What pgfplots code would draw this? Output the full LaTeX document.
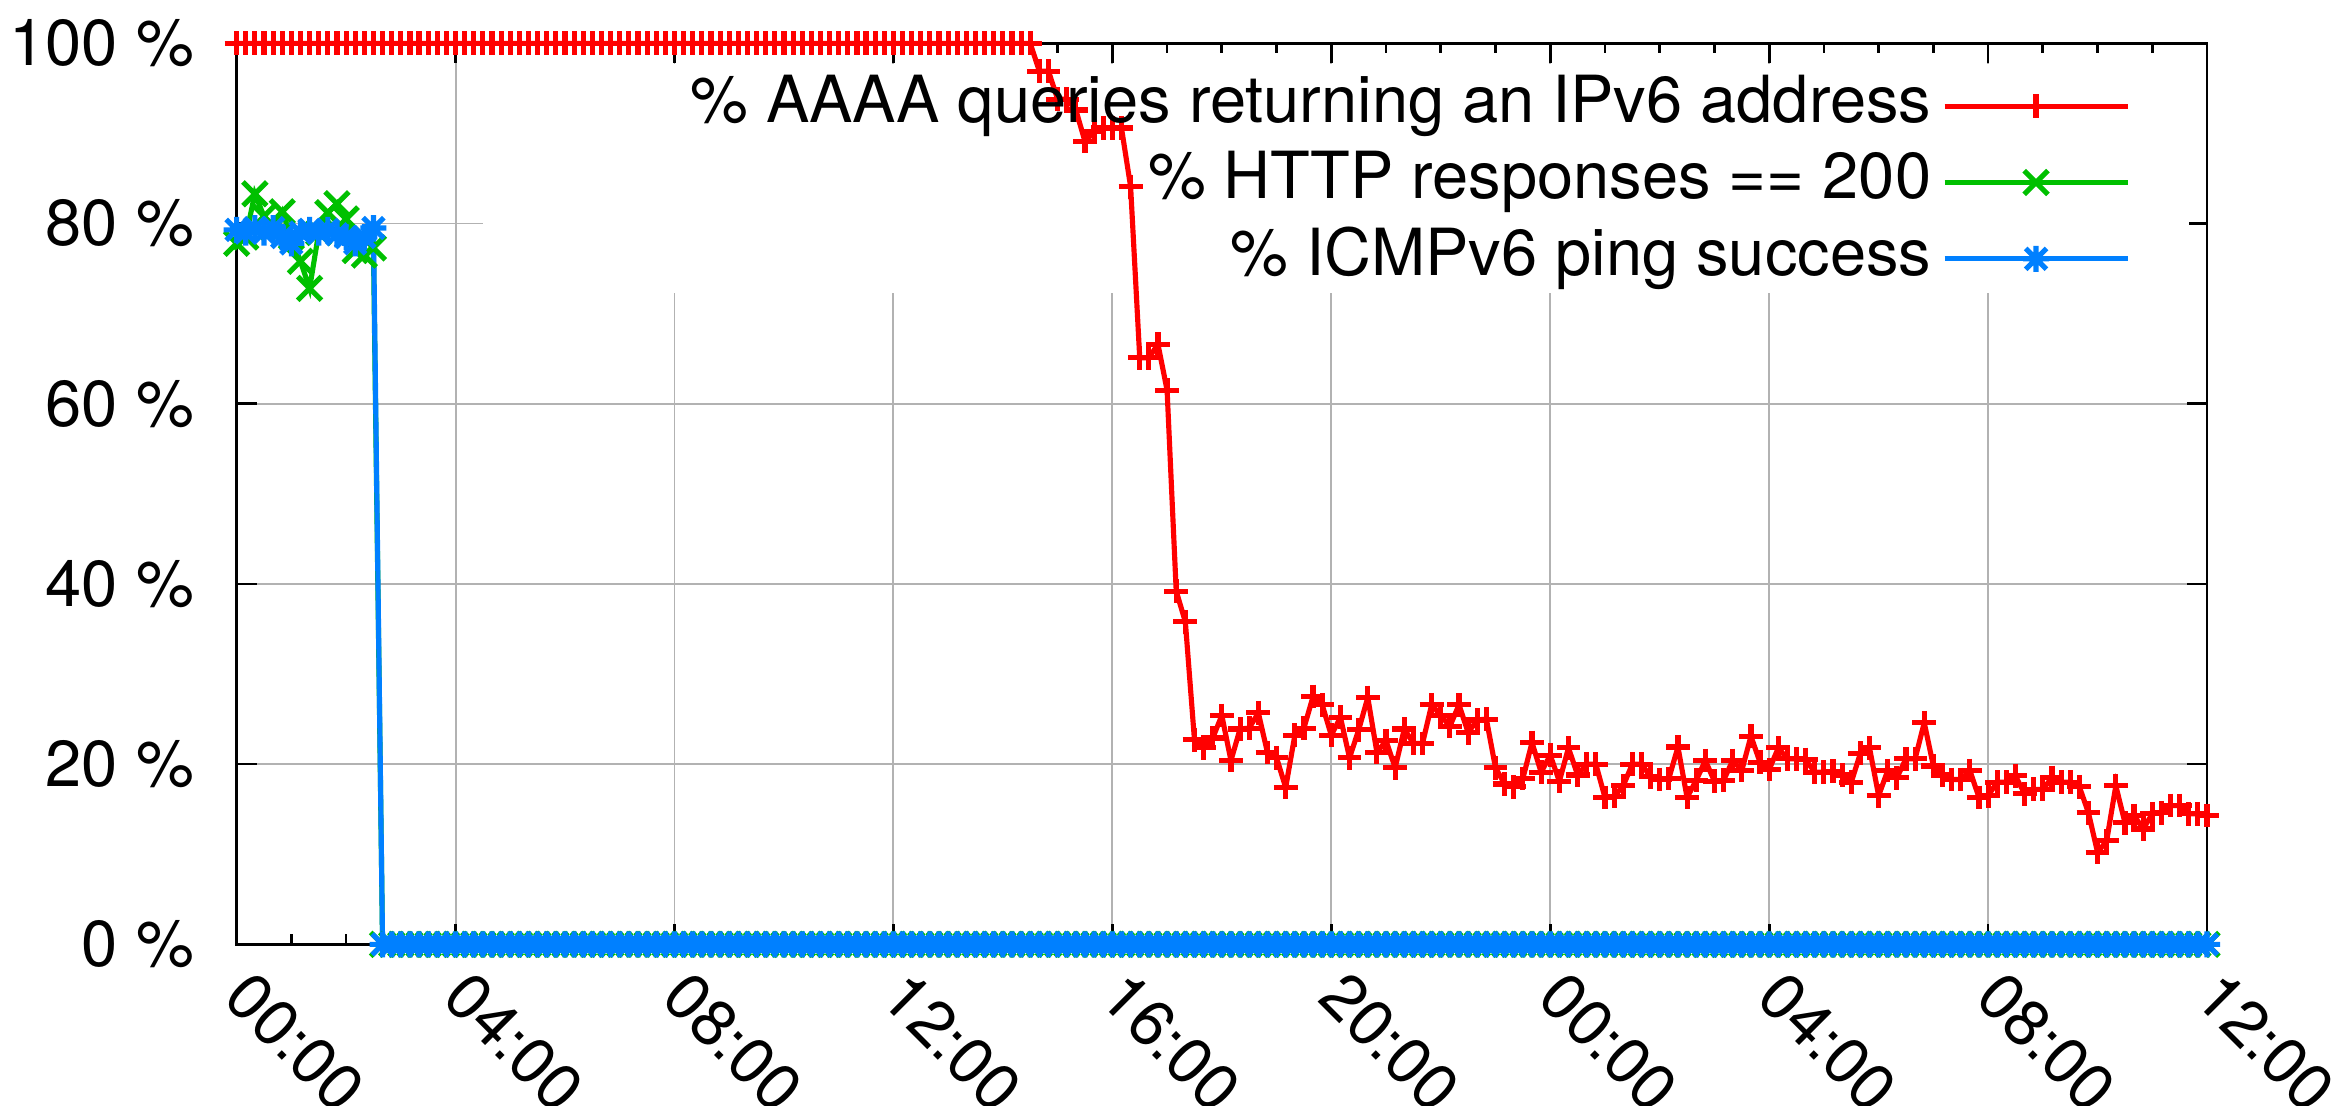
\documentclass[border=0pt]{standalone}
\usepackage{fontspec}
\setmainfont{TeX Gyre Heros}
\usepackage{pgfplots}
\usepackage{pgfplotstable}
\pgfplotsset{compat=1.18}
\usetikzlibrary{plotmarks}
\definecolor{gred}{RGB}{255,0,0}
\definecolor{ggreen}{RGB}{0,192,0}
\definecolor{gblue}{RGB}{0,128,255}

\pgfdeclareplotmark{gstar}{%
  \pgfpathmoveto{\pgfqpoint{-\pgfplotmarksize}{0pt}}\pgfpathlineto{\pgfqpoint{\pgfplotmarksize}{0pt}}%
  \pgfpathmoveto{\pgfqpoint{0pt}{-\pgfplotmarksize}}\pgfpathlineto{\pgfqpoint{0pt}{\pgfplotmarksize}}%
  \pgfpathmoveto{\pgfqpoint{-.8\pgfplotmarksize}{-.8\pgfplotmarksize}}\pgfpathlineto{\pgfqpoint{.8\pgfplotmarksize}{.8\pgfplotmarksize}}%
  \pgfpathmoveto{\pgfqpoint{-.8\pgfplotmarksize}{.8\pgfplotmarksize}}\pgfpathlineto{\pgfqpoint{.8\pgfplotmarksize}{-.8\pgfplotmarksize}}%
  \pgfusepathqstroke}

\pgfplotstableread{
t aaaa http icmp
0 100 77.8 79.3
10 100 78.5 79.0
20 100 83.3 79.5
30 100 80.8 79.0
40 100 79.5 79.5
50 100 81.3 78.5
60 100 78.5 77.8
70 100 75.8 79.0
80 100 72.8 79.3
90 100 79.0 79.0
100 100 81.2 79.3
110 100 82.2 78.8
120 100 80.5 78.5
130 100 77.0 77.8
140 100 76.5 78.5
150 100 77.3 79.5
160 100 0 0
170 100 0 0
180 100 0 0
190 100 0 0
200 100 0 0
210 100 0 0
220 100 0 0
230 100 0 0
240 100 0 0
250 100 0 0
260 100 0 0
270 100 0 0
280 100 0 0
290 100 0 0
300 100 0 0
310 100 0 0
320 100 0 0
330 100 0 0
340 100 0 0
350 100 0 0
360 100 0 0
370 100 0 0
380 100 0 0
390 100 0 0
400 100 0 0
410 100 0 0
420 100 0 0
430 100 0 0
440 100 0 0
450 100 0 0
460 100 0 0
470 100 0 0
480 100 0 0
490 100 0 0
500 100 0 0
510 100 0 0
520 100 0 0
530 100 0 0
540 100 0 0
550 100 0 0
560 100 0 0
570 100 0 0
580 100 0 0
590 100 0 0
600 100 0 0
610 100 0 0
620 100 0 0
630 100 0 0
640 100 0 0
650 100 0 0
660 100 0 0
670 100 0 0
680 100 0 0
690 100 0 0
700 100 0 0
710 100 0 0
720 100 0 0
730 100 0 0
740 100 0 0
750 100 0 0
760 100 0 0
770 100 0 0
780 100 0 0
790 100 0 0
800 100 0 0
810 100 0 0
820 100 0 0
830 100 0 0
840 100 0 0
850 100 0 0
860 100 0 0
870 100 0 0
880 96.9 0 0
890 96.9 0 0
900 93.8 0 0
910 93.8 0 0
920 92.6 0 0
930 89.1 0 0
940 90.2 0 0
950 90.6 0 0
960 90.6 0 0
970 90.6 0 0
980 84.1 0 0
990 65.1 0 0
1000 65.1 0 0
1010 66.6 0 0
1020 61.5 0 0
1030 39.2 0 0
1040 35.8 0 0
1050 22.7 0 0
1060 21.8 0 0
1070 22.9 0 0
1080 25.4 0 0
1090 20.4 0 0
1100 23.9 0 0
1110 24.0 0 0
1120 25.7 0 0
1130 21.3 0 0
1140 20.7 0 0
1150 17.4 0 0
1160 23.2 0 0
1170 24.0 0 0
1180 27.5 0 0
1190 26.6 0 0
1200 23.2 0 0
1210 25.2 0 0
1220 20.7 0 0
1230 23.8 0 0
1240 27.4 0 0
1250 21.3 0 0
1260 22.6 0 0
1270 19.6 0 0
1280 23.9 0 0
1290 22.3 0 0
1300 22.3 0 0
1310 26.6 0 0
1320 25.4 0 0
1330 24.2 0 0
1340 26.6 0 0
1350 23.5 0 0
1360 24.9 0 0
1370 25.0 0 0
1380 19.6 0 0
1390 17.8 0 0
1400 17.5 0 0
1410 18.4 0 0
1420 22.4 0 0
1430 19.1 0 0
1440 21.0 0 0
1450 18.1 0 0
1460 21.8 0 0
1470 18.8 0 0
1480 20.0 0 0
1490 20.0 0 0
1500 16.3 0 0
1510 16.4 0 0
1520 17.6 0 0
1530 20.0 0 0
1540 20.0 0 0
1550 18.6 0 0
1560 18.3 0 0
1570 18.4 0 0
1580 21.9 0 0
1590 16.3 0 0
1600 18.2 0 0
1610 20.4 0 0
1620 18.1 0 0
1630 18.2 0 0
1640 20.4 0 0
1650 19.3 0 0
1660 23.1 0 0
1670 20.2 0 0
1680 19.4 0 0
1690 21.8 0 0
1700 20.6 0 0
1710 20.6 0 0
1720 20.5 0 0
1730 19.1 0 0
1740 19.1 0 0
1750 19.2 0 0
1760 18.8 0 0
1770 18.0 0 0
1780 21.2 0 0
1790 21.8 0 0
1800 16.5 0 0
1810 19.3 0 0
1820 18.5 0 0
1830 20.6 0 0
1840 20.6 0 0
1850 24.6 0 0
1860 19.8 0 0
1870 18.8 0 0
1880 18.3 0 0
1890 18.3 0 0
1900 19.3 0 0
1910 16.3 0 0
1920 16.5 0 0
1930 18.0 0 0
1940 18.0 0 0
1950 18.7 0 0
1960 16.7 0 0
1970 17.2 0 0
1980 17.2 0 0
1990 18.5 0 0
2000 18.0 0 0
2010 18.0 0 0
2020 17.5 0 0
2030 14.6 0 0
2040 10.2 0 0
2050 11.5 0 0
2060 17.6 0 0
2070 13.5 0 0
2080 14.3 0 0
2090 12.8 0 0
2100 14.5 0 0
2110 14.6 0 0
2120 15.4 0 0
2130 15.4 0 0
2140 14.5 0 0
2150 14.5 0 0
2160 14.3 0 0
}\datatable

\begin{document}
\begin{tikzpicture}[font=\fontsize{12}{14}\selectfont]
\begin{axis}[
  scale only axis, width=363.9pt, height=166.4pt,
  xmin=0, xmax=2160, ymin=0, ymax=100,
  xtick={0,240,...,2160},
  xticklabels={00:00,04:00,08:00,12:00,16:00,20:00,00:00,04:00,08:00,12:00},
  minor x tick num=3,
  ytick={0,20,...,100},
  yticklabels={0 \%,20 \%,40 \%,60 \%,80 \%,100 \%},
  tick align=inside, tick pos=both,
  major tick length=3.7pt, minor tick length=1.85pt,
  grid=major, major grid style={gray!60, line width=0.35pt},
  axis line style={line width=0.5pt},
  every tick/.style={black, line width=0.5pt},
  clip=false,
  yticklabel style={inner sep=0pt, xshift=-7.7pt},
  xticklabel style={inner sep=0pt, xshift=3.3pt, yshift=-4.1pt, rotate=-45, anchor=north west},
  legend style={draw=none, fill=none, at={(1,1)}, anchor=north east, xshift=-14pt, yshift=-5.4pt,
    inner sep=0pt, column sep=2pt, row sep=2.1pt,
    nodes={inner sep=0pt, text height=9pt, text depth=3pt}},
  legend cell align=right, legend plot pos=right,
  legend image code/.code={\draw[mark repeat=2,mark phase=2,#1] plot coordinates {(0pt,0pt) (16.9pt,0pt) (33.8pt,0pt)};},
]
\fill[white] (axis cs:270,72.3) rectangle (axis cs:2140,97.7);
\addplot[gred, line width=0.95pt, mark=+, mark size=2.2pt, mark options={line width=0.95pt}] table[x=t,y=aaaa]{\datatable};
\addlegendentry{\% AAAA queries returning an IPv6 address}
\addplot[ggreen, line width=0.95pt, mark=x, mark size=3.1pt, mark options={line width=0.95pt}] table[x=t,y=http]{\datatable};
\addlegendentry{\% HTTP responses == 200}
\addplot[gblue, line width=0.95pt, mark=gstar, mark size=2.4pt, mark options={line width=0.95pt}] table[x=t,y=icmp]{\datatable};
\addlegendentry{\% ICMPv6 ping success}
\coordinate (bl) at (rel axis cs:0,0);
\coordinate (tr) at (rel axis cs:1,1);
\end{axis}
\pgfresetboundingbox
\useasboundingbox ([xshift=-43.7pt,yshift=-29.7pt]bl) rectangle ([xshift=26.4pt,yshift=8pt]tr);
\end{tikzpicture}
\end{document}
